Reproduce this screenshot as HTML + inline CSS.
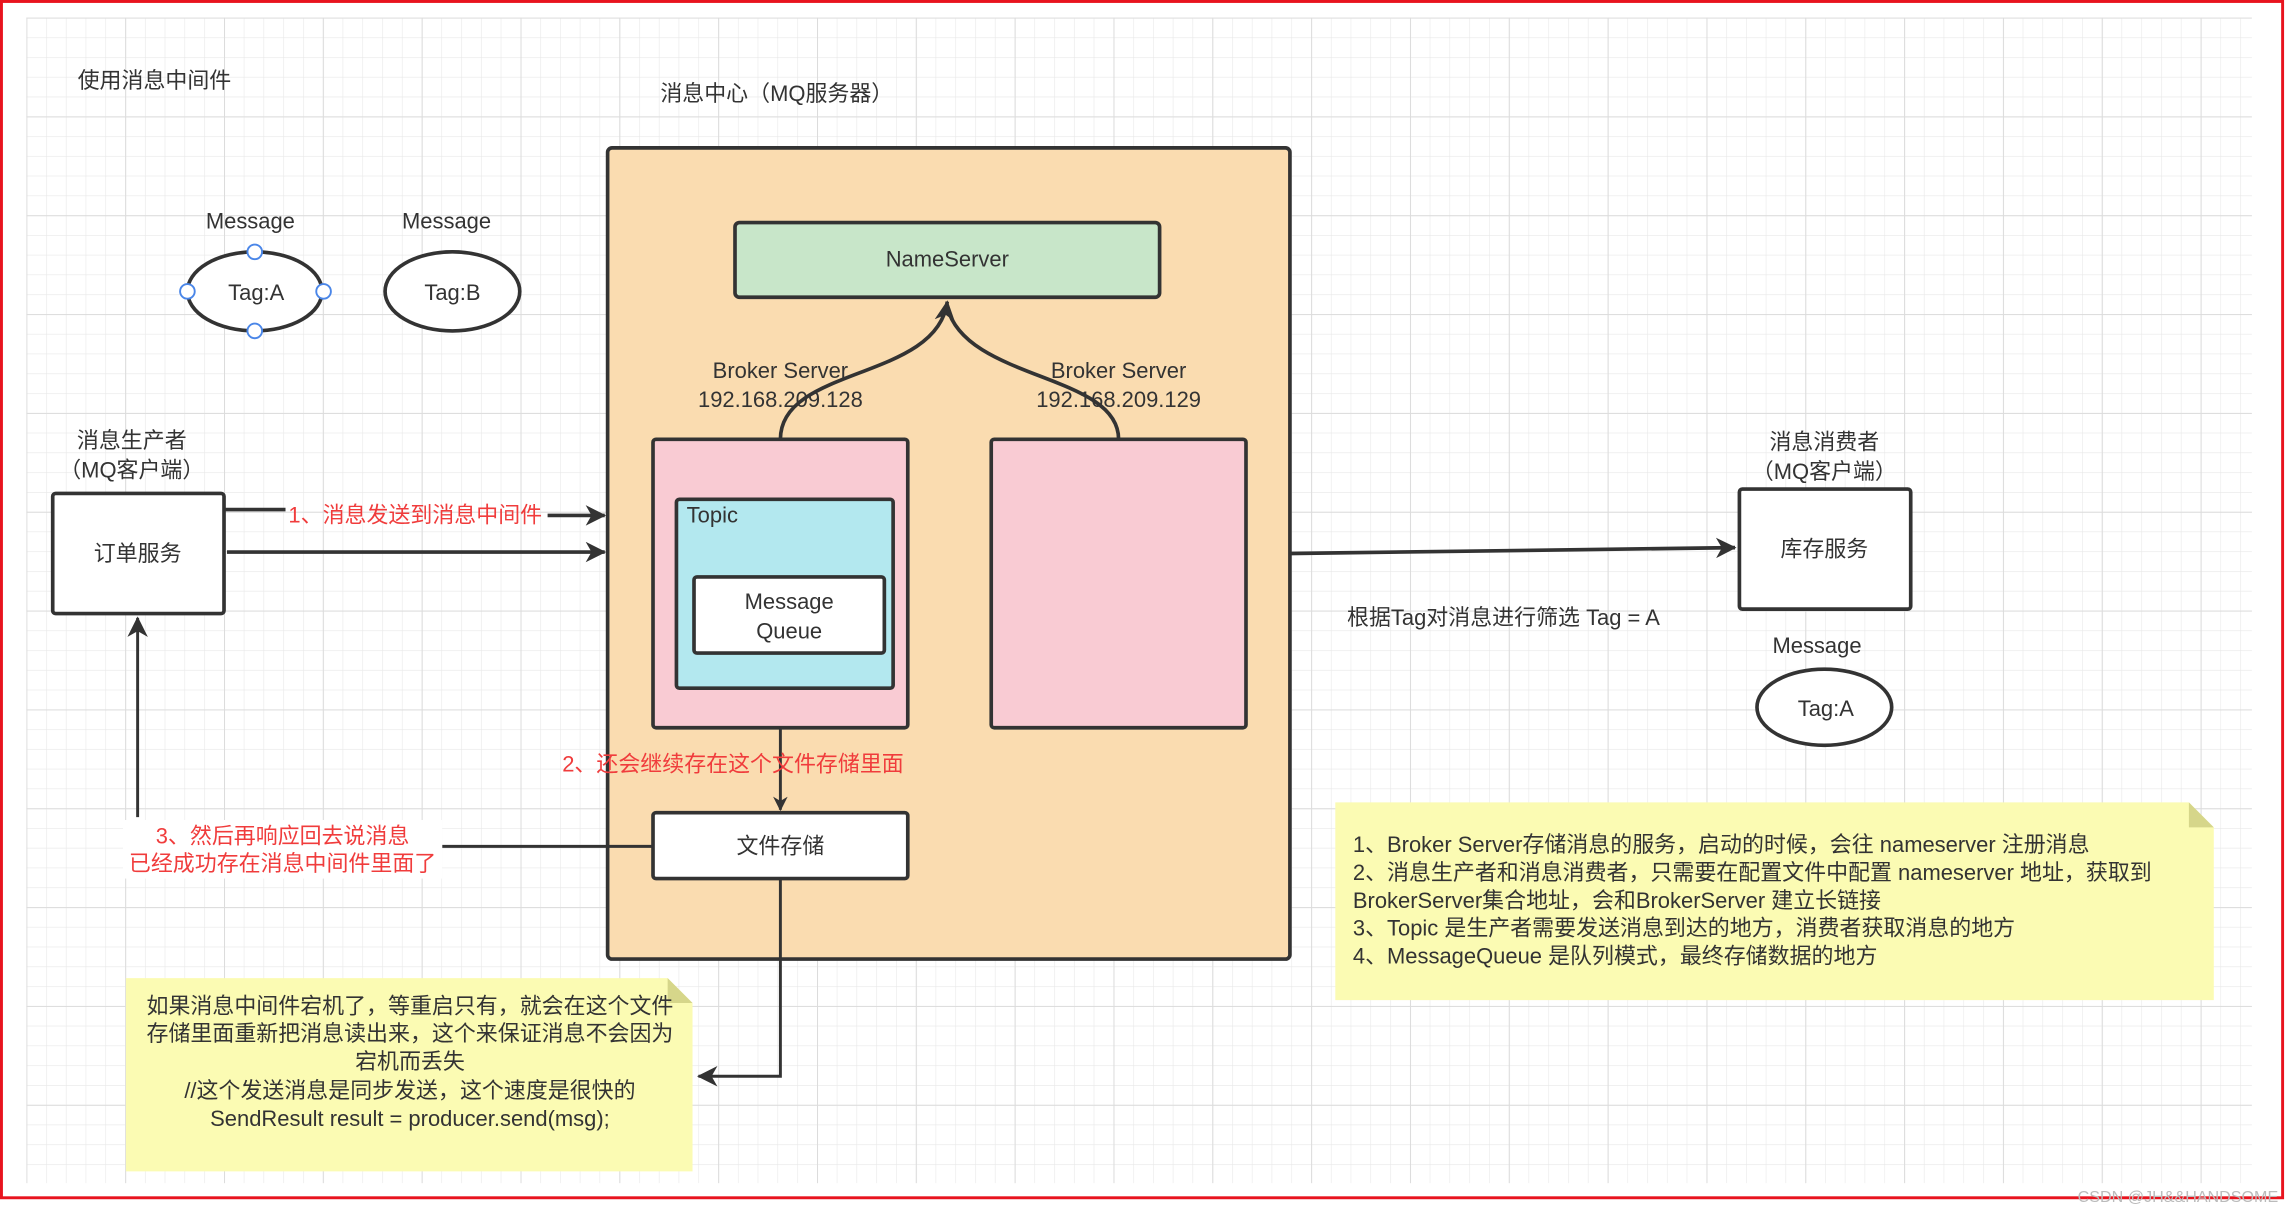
<!DOCTYPE html>
<html><head><meta charset="utf-8"><style>
html,body{margin:0;padding:0;background:#fff;}
svg{display:block;}
text{font-family:"Liberation Sans","Noto Sans CJK SC",sans-serif;fill:#333;font-size:15px;}
.r{fill:#f03c3c;}
</style></head><body>
<svg width="2287" height="1207" viewBox="0 0 1562 824.3" preserveAspectRatio="none" xmlns="http://www.w3.org/2000/svg">
<defs>
<pattern id="g" x="18" y="12" width="13.5" height="13.5" patternUnits="userSpaceOnUse">
<path d="M0 0H13.5M0 0V13.5" stroke="#e8e8e8" stroke-width="0.8" fill="none"/>
</pattern>
<pattern id="G" x="18" y="12" width="67.5" height="67.5" patternUnits="userSpaceOnUse">
<path d="M0 0H67.5M0 0V67.5" stroke="#dcdcdc" stroke-width="1.4" fill="none"/>
</pattern>
<marker id="a" markerWidth="10" markerHeight="10" refX="9" refY="5" orient="auto" markerUnits="userSpaceOnUse"><path d="M0 0L10 5L0 10L3 5Z" fill="#333"/></marker>
<marker id="b" markerWidth="14" markerHeight="14" refX="13" refY="7" orient="auto" markerUnits="userSpaceOnUse"><path d="M0 0L14 7L0 14L4 7Z" fill="#333"/></marker>
</defs>
<rect x="18" y="12" width="1520" height="796" fill="url(#g)"/>
<rect x="18" y="12" width="1520" height="796" fill="url(#G)"/>
<rect x="1" y="1" width="1558" height="817" fill="none" stroke="#e8141e" stroke-width="2"/>

<text x="53" y="60">使用消息中间件</text>
<text x="451" y="69">消息中心（MQ服务器）</text>

<rect x="415" y="101" width="466" height="554" rx="3" fill="#fadcb0" stroke="#333" stroke-width="2.5"/>
<rect x="502" y="152" width="290" height="51" rx="3" fill="#c8e6c9" stroke="#333" stroke-width="2.5"/>
<text x="647" y="182" text-anchor="middle">NameServer</text>
<path d="M533 300C533 250 640 260 647 206" fill="none" stroke="#333" stroke-width="2.5" marker-end="url(#b)"/>
<path d="M764 300C764 255 660 260 647 210" fill="none" stroke="#333" stroke-width="2.5"/>
<text x="533" y="258" text-anchor="middle">Broker Server</text>
<text x="533" y="278" text-anchor="middle">192.168.209.128</text>
<text x="764" y="258" text-anchor="middle">Broker Server</text>
<text x="764" y="278" text-anchor="middle">192.168.209.129</text>

<rect x="446" y="300" width="174" height="197" rx="2" fill="#f9cbd3" stroke="#333" stroke-width="2.5"/>
<rect x="677" y="300" width="174" height="197" rx="2" fill="#f9cbd3" stroke="#333" stroke-width="2.5"/>
<rect x="462" y="341" width="148" height="129" rx="2" fill="#b3e8ef" stroke="#333" stroke-width="2.5"/>
<text x="469" y="357">Topic</text>
<rect x="474" y="394" width="130" height="52" rx="2" fill="#fff" stroke="#333" stroke-width="2.5"/>
<text x="539" y="416" text-anchor="middle">Message</text>
<text x="539" y="436" text-anchor="middle">Queue</text>

<line x1="533" y1="497" x2="533" y2="553" stroke="#333" stroke-width="2" marker-end="url(#a)"/>
<text x="384" y="527" class="r">2、还会继续存在这个文件存储里面</text>
<rect x="446" y="555" width="174" height="45" rx="2" fill="#fff" stroke="#333" stroke-width="2.5"/>
<text x="533" y="583" text-anchor="middle">文件存储</text>
<path d="M533 600V735H477" fill="none" stroke="#333" stroke-width="2" marker-end="url(#b)"/>

<line x1="446" y1="578" x2="302" y2="578" stroke="#333" stroke-width="2"/>
<rect x="84" y="560" width="218" height="40" fill="#fff"/>
<text x="193" y="576" text-anchor="middle" class="r">3、然后再响应回去说消息</text>
<text x="193" y="595" text-anchor="middle" class="r">已经成功存在消息中间件里面了</text>
<line x1="94" y1="558" x2="94" y2="422" stroke="#333" stroke-width="2" marker-end="url(#b)"/>

<text x="90" y="306" text-anchor="middle">消息生产者</text>
<text x="90" y="326" text-anchor="middle">（MQ客户端）</text>
<rect x="36" y="337" width="117" height="82" rx="2" fill="#fff" stroke="#333" stroke-width="2.5"/>
<text x="94" y="383" text-anchor="middle">订单服务</text>
<path d="M153 348H195" stroke="#333" stroke-width="2.5" fill="none"/>
<text x="197" y="357" class="r">1、消息发送到消息中间件</text>
<path d="M374 352H413" stroke="#333" stroke-width="2.5" fill="none" marker-end="url(#b)"/>
<path d="M155 377H413" stroke="#333" stroke-width="2.5" fill="none" marker-end="url(#b)"/>

<text x="171" y="156" text-anchor="middle">Message</text>
<text x="305" y="156" text-anchor="middle">Message</text>
<ellipse cx="174" cy="199" rx="46" ry="27" fill="#fff" stroke="#333" stroke-width="2.5"/>
<text x="175" y="205" text-anchor="middle">Tag:A</text>
<g fill="#fff" stroke="#4a86e8" stroke-width="1.3">
<circle cx="174" cy="172" r="5"/><circle cx="128" cy="199" r="5"/><circle cx="221" cy="199" r="5"/><circle cx="174" cy="226" r="5"/>
</g>
<ellipse cx="309" cy="199" rx="46" ry="27" fill="#fff" stroke="#333" stroke-width="2.5"/>
<text x="309" y="205" text-anchor="middle">Tag:B</text>

<path d="M881 378L1185 374" stroke="#333" stroke-width="2.5" fill="none" marker-end="url(#b)"/>
<text x="1246" y="307" text-anchor="middle">消息消费者</text>
<text x="1246" y="327" text-anchor="middle">（MQ客户端）</text>
<rect x="1188" y="334" width="117" height="82" rx="2" fill="#fff" stroke="#333" stroke-width="2.5"/>
<text x="1246" y="380" text-anchor="middle">库存服务</text>
<text x="920" y="427">根据Tag对消息进行筛选  Tag = A</text>
<text x="1241" y="446" text-anchor="middle">Message</text>
<ellipse cx="1246" cy="483" rx="46" ry="26" fill="#fff" stroke="#333" stroke-width="2.5"/>
<text x="1247" y="489" text-anchor="middle">Tag:A</text>

<path d="M912 548H1495L1512 565V683H912Z" fill="#fbfbb3"/>
<path d="M1495 548L1512 565H1495Z" fill="#d6d68a"/>
<text x="924" y="582">1、Broker Server存储消息的服务，启动的时候，会往 nameserver 注册消息</text>
<text x="924" y="601">2、消息生产者和消息消费者，只需要在配置文件中配置 nameserver 地址，获取到</text>
<text x="924" y="620">BrokerServer集合地址，会和BrokerServer 建立长链接</text>
<text x="924" y="639">3、Topic 是生产者需要发送消息到达的地方，消费者获取消息的地方</text>
<text x="924" y="658">4、MessageQueue 是队列模式，最终存储数据的地方</text>

<path d="M86 668H456L473 685V800H86Z" fill="#fbfbb3"/>
<path d="M456 668L473 685H456Z" fill="#d6d68a"/>
<text x="280" y="692" text-anchor="middle">如果消息中间件宕机了，等重启只有，就会在这个文件</text>
<text x="280" y="711" text-anchor="middle">存储里面重新把消息读出来，这个来保证消息不会因为</text>
<text x="280" y="730" text-anchor="middle">宕机而丢失</text>
<text x="280" y="750" text-anchor="middle">//这个发送消息是同步发送，这个速度是很快的</text>
<text x="280" y="769" text-anchor="middle">SendResult result = producer.send(msg);</text>

<text x="1556" y="821" text-anchor="end" style="font-size:11px;fill:#bbb">CSDN @JH&amp;&amp;HANDSOME</text>
</svg>
</body></html>
